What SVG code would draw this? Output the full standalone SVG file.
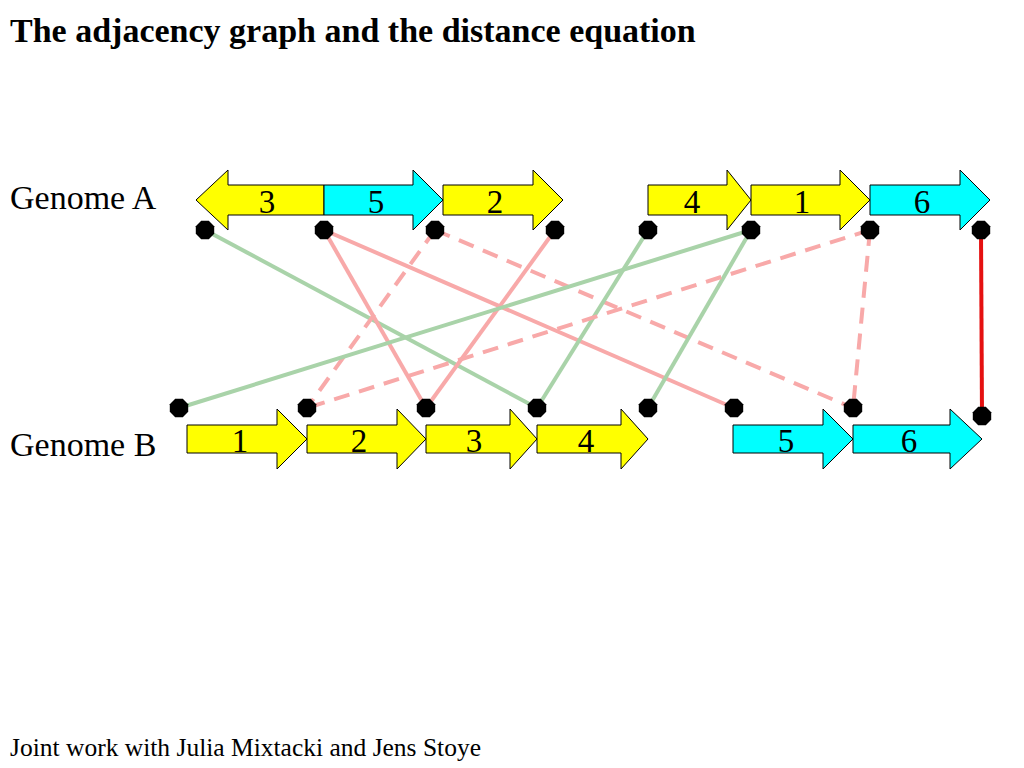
<svg xmlns="http://www.w3.org/2000/svg" width="1024" height="768" viewBox="0 0 1024 768">
<style>
.t{font-family:"Liberation Serif","Times New Roman",serif;fill:#000}
.ar{stroke:#000;stroke-width:1;stroke-linejoin:miter}
.y{fill:#ffff00}
.c{fill:#00ffff}
.num{font-family:"Liberation Serif","Times New Roman",serif;font-size:33px;text-anchor:middle}
.g{stroke:#a9d3a9;stroke-width:4;fill:none}
.r{stroke:#f8a9a9;stroke-width:4;fill:none}
.rd{stroke:#f8a9a9;stroke-width:4;fill:none;stroke-dasharray:16,10}
.rs{stroke:#e51010;stroke-width:4;fill:none}
</style>
<defs>
<polygon id="dot" points="-3.8,-9.2 3.8,-9.2 9.2,-3.8 9.2,3.8 3.8,9.2 -3.8,9.2 -9.2,3.8 -9.2,-3.8" fill="#000"/>
</defs>
<rect width="1024" height="768" fill="#fff"/>
<text class="t" x="10" y="42" font-size="34" font-weight="bold">The adjacency graph and the distance equation</text>
<text class="t" x="10" y="209" font-size="34">Genome A</text>
<text class="t" x="10" y="456" font-size="34">Genome B</text>
<text class="t" x="10" y="756" font-size="25.5">Joint work with Julia Mixtacki and Jens Stoye</text>

<g id="connectors">
<line class="g" x1="205" y1="230" x2="537" y2="408"/>
<line class="r" x1="324" y1="230" x2="426" y2="408"/>
<line class="r" x1="324" y1="230" x2="734" y2="408"/>
<line class="rd" x1="435" y1="230" x2="307" y2="408"/>
<line class="rd" x1="435" y1="230" x2="853" y2="408"/>
<line class="r" x1="555" y1="230" x2="426" y2="408"/>
<line class="g" x1="648" y1="230" x2="537" y2="408"/>
<line class="g" x1="751" y1="230" x2="179" y2="408"/>
<line class="g" x1="751" y1="230" x2="648" y2="408"/>
<line class="rd" x1="870" y1="230" x2="307" y2="408"/>
<line class="rd" x1="870" y1="230" x2="853" y2="408"/>
<line class="rs" x1="981" y1="230" x2="982" y2="416"/>
</g>

<g id="genomeA">
<g id="A3"><path class="ar y" d="M324,185 L228,185 L228,170 L196,200 L228,230 L228,215 L324,215 Z"/><text class="num" x="267" y="213">3</text></g>
<g id="A5"><path class="ar c" d="M324,185 L413,185 L413,170 L443,200 L413,230 L413,215 L324,215 Z"/><text class="num" x="376" y="213">5</text></g>
<g id="A2"><path class="ar y" d="M443,185 L533,185 L533,170 L563,200 L533,230 L533,215 L443,215 Z"/><text class="num" x="495" y="213">2</text></g>
<g id="A4"><path class="ar y" d="M648,185 L727,185 L727,170 L751,200 L727,230 L727,215 L648,215 Z"/><text class="num" x="692" y="213">4</text></g>
<g id="A1"><path class="ar y" d="M751,185 L840,185 L840,170 L870,200 L840,230 L840,215 L751,215 Z"/><text class="num" x="802" y="213">1</text></g>
<g id="A6"><path class="ar c" d="M870,185 L960,185 L960,170 L990,200 L960,230 L960,215 L870,215 Z"/><text class="num" x="922" y="213">6</text></g>
</g>

<g id="genomeB">
<g id="B1"><path class="ar y" d="M187,425 L277,425 L277,409 L307,439 L277,469 L277,453 L187,453 Z"/><text class="num" x="240" y="452">1</text></g>
<g id="B2"><path class="ar y" d="M307,425 L397,425 L397,409 L426,439 L397,469 L397,453 L307,453 Z"/><text class="num" x="359" y="452">2</text></g>
<g id="B3"><path class="ar y" d="M426,425 L510,425 L510,409 L537,439 L510,469 L510,453 L426,453 Z"/><text class="num" x="474" y="452">3</text></g>
<g id="B4"><path class="ar y" d="M537,425 L621,425 L621,409 L648,439 L621,469 L621,453 L537,453 Z"/><text class="num" x="586" y="452">4</text></g>
<g id="B5"><path class="ar c" d="M733,425 L823,425 L823,409 L853,439 L823,469 L823,453 L733,453 Z"/><text class="num" x="786" y="452">5</text></g>
<g id="B6"><path class="ar c" d="M853,425 L950,425 L950,409 L982,439 L950,469 L950,453 L853,453 Z"/><text class="num" x="909" y="452">6</text></g>
</g>

<g id="dotsA">
<use href="#dot" x="205" y="230"/>
<use href="#dot" x="324" y="230"/>
<use href="#dot" x="435" y="230"/>
<use href="#dot" x="555" y="230"/>
<use href="#dot" x="648" y="230"/>
<use href="#dot" x="751" y="230"/>
<use href="#dot" x="870" y="230"/>
<use href="#dot" x="981" y="230"/>
</g>
<g id="dotsB">
<use href="#dot" x="179" y="408"/>
<use href="#dot" x="307" y="408"/>
<use href="#dot" x="426" y="408"/>
<use href="#dot" x="537" y="408"/>
<use href="#dot" x="648" y="408"/>
<use href="#dot" x="734" y="408"/>
<use href="#dot" x="853" y="408"/>
<use href="#dot" x="982" y="416"/>
</g>
</svg>
